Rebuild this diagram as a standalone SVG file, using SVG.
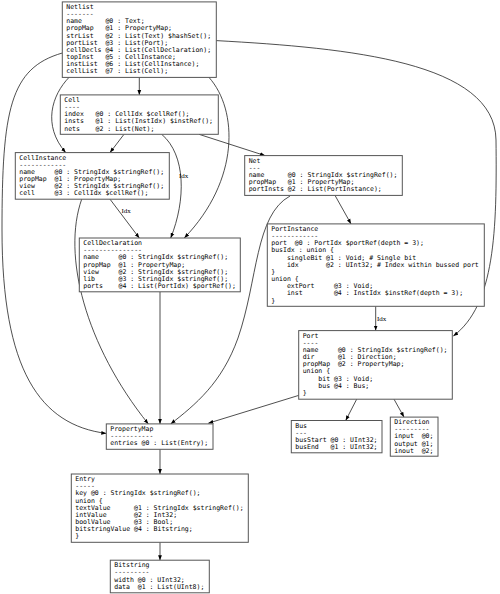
<svg xmlns="http://www.w3.org/2000/svg" width="500" height="594" viewBox="0 0 500 594">
<style>
.box{fill:#fff;stroke:#555;stroke-width:1}
.t{font-family:"DejaVu Sans Mono","Liberation Mono",monospace;font-size:6.5px;fill:#000;white-space:pre}
.e{fill:none;stroke:#222;stroke-width:0.8}
.lbl{font-family:"Liberation Serif",serif;font-size:7px;fill:#000}
</style>
<defs>
<marker id="ah" markerWidth="6" markerHeight="5" refX="5" refY="2.5" orient="auto" markerUnits="userSpaceOnUse"><path d="M0,0.6 L5,2.5 L0,4.4 z" fill="#000"/></marker>
</defs>
<rect width="500" height="594" fill="#fff"/>
<g id="edges">
<path class="e" marker-end="url(#ah)" d="M139.3,77.4 L139.3,94.9"/>
<path class="e" marker-end="url(#ah)" d="M69,77.4 C52,95 42,125 65.7,152.6"/>
<path class="e" marker-end="url(#ah)" d="M209,77.4 C238,110 240,180 184.3,238"/>
<path class="e" marker-end="url(#ah)" d="M62.3,53 C10,68 2,110 2,230 C2,370 40,425 106.3,433.4"/>
<path class="e" marker-end="url(#ah)" d="M216.3,40.6 C350,48 495,62 496,140 C497,230 495,305 453.3,336"/>
<path class="e" marker-end="url(#ah)" d="M124,134.3 L110,152.6"/>
<path class="e" marker-end="url(#ah)" d="M161.7,134.3 C186,155 186,200 170.7,238"/>
<path class="e" marker-end="url(#ah)" d="M199,134.3 L265,155.6"/>
<path class="e" marker-end="url(#ah)" d="M110,199.2 L139.3,238"/>
<path class="e" marker-end="url(#ah)" d="M81.7,199.2 C62,255 85,345 148.3,423.9"/>
<path class="e" marker-end="url(#ah)" d="M160,291.8 L160,423.9"/>
<path class="e" marker-end="url(#ah)" d="M290,196 C255,215 258,280 238,338 C222,383 195,405 170.7,423.9"/>
<path class="e" marker-end="url(#ah)" d="M335,195.4 L351,223.9"/>
<path class="e" marker-end="url(#ah)" d="M375.7,306.3 L375.7,330.6"/>
<path class="e" marker-end="url(#ah)" d="M298.7,395.4 L208.3,423.2"/>
<path class="e" marker-end="url(#ah)" d="M356.7,399.2 L345.7,420.5"/>
<path class="e" marker-end="url(#ah)" d="M394,399.2 L404,417.1"/>
<path class="e" marker-end="url(#ah)" d="M160,449.3 L160,474"/>
<path class="e" marker-end="url(#ah)" d="M160,542.3 L160,560.2"/>
<text class="lbl" x="179" y="178">Idx</text>
<text class="lbl" x="121.5" y="213">Idx</text>
<text class="lbl" x="377" y="320.5">Idx</text>
</g>
<g id="Netlist">
<rect class="box" x="62.3" y="1.9" width="154" height="75.5"/>
<text class="t" xml:space="preserve" x="66.3" y="8.9"><tspan x="66.3">Netlist</tspan><tspan x="66.3" dy="7.17">-------</tspan><tspan x="66.3" dy="7.17">name      @0 : Text;</tspan><tspan x="66.3" dy="7.17">propMap   @1 : PropertyMap;</tspan><tspan x="66.3" dy="7.17">strList   @2 : List(Text) $hashSet();</tspan><tspan x="66.3" dy="7.17">portList  @3 : List(Port);</tspan><tspan x="66.3" dy="7.17">cellDecls @4 : List(CellDeclaration);</tspan><tspan x="66.3" dy="7.17">topInst   @5 : CellInstance;</tspan><tspan x="66.3" dy="7.17">instList  @6 : List(CellInstance);</tspan><tspan x="66.3" dy="7.17">cellList  @7 : List(Cell);</tspan></text>
</g>
<g id="Cell">
<rect class="box" x="60.3" y="94.9" width="158" height="39.4"/>
<text class="t" xml:space="preserve" x="64.3" y="101.9"><tspan x="64.3">Cell</tspan><tspan x="64.3" dy="7.17">----</tspan><tspan x="64.3" dy="7.17">index   @0 : CellIdx $cellRef();</tspan><tspan x="64.3" dy="7.17">insts   @1 : List(InstIdx) $instRef();</tspan><tspan x="64.3" dy="7.17">nets    @2 : List(Net);</tspan></text>
</g>
<g id="CellInstance">
<rect class="box" x="15.3" y="152.6" width="154" height="46.6"/>
<text class="t" xml:space="preserve" x="19.3" y="159.6"><tspan x="19.3">CellInstance</tspan><tspan x="19.3" dy="7.17">------------</tspan><tspan x="19.3" dy="7.17">name     @0 : StringIdx $stringRef();</tspan><tspan x="19.3" dy="7.17">propMap  @1 : PropertyMap;</tspan><tspan x="19.3" dy="7.17">view     @2 : StringIdx $stringRef();</tspan><tspan x="19.3" dy="7.17">cell     @3 : CellIdx $cellRef();</tspan></text>
</g>
<g id="Net">
<rect class="box" x="244.7" y="155.6" width="157.6" height="39.8"/>
<text class="t" xml:space="preserve" x="248.7" y="162.6"><tspan x="248.7">Net</tspan><tspan x="248.7" dy="7.17">---</tspan><tspan x="248.7" dy="7.17">name      @0 : StringIdx $stringRef();</tspan><tspan x="248.7" dy="7.17">propMap   @1 : PropertyMap;</tspan><tspan x="248.7" dy="7.17">portInsts @2 : List(PortInstance);</tspan></text>
</g>
<g id="CellDeclaration">
<rect class="box" x="79.3" y="238" width="161" height="53.8"/>
<text class="t" xml:space="preserve" x="83.3" y="245"><tspan x="83.3">CellDeclaration</tspan><tspan x="83.3" dy="7.17">---------------</tspan><tspan x="83.3" dy="7.17">name     @0 : StringIdx $stringRef();</tspan><tspan x="83.3" dy="7.17">propMap  @1 : PropertyMap;</tspan><tspan x="83.3" dy="7.17">view     @2 : StringIdx $stringRef();</tspan><tspan x="83.3" dy="7.17">lib      @3 : StringIdx $stringRef();</tspan><tspan x="83.3" dy="7.17">ports    @4 : List(PortIdx) $portRef();</tspan></text>
</g>
<g id="PortInstance">
<rect class="box" x="267.3" y="223.9" width="217" height="82.4"/>
<text class="t" xml:space="preserve" x="271.3" y="230.9"><tspan x="271.3">PortInstance</tspan><tspan x="271.3" dy="7.17">------------</tspan><tspan x="271.3" dy="7.17">port  @0 : PortIdx $portRef(depth = 3);</tspan><tspan x="271.3" dy="7.17">busIdx : union {</tspan><tspan x="271.3" dy="7.17">    singleBit @1 : Void; # Single bit</tspan><tspan x="271.3" dy="7.17">    idx       @2 : UInt32; # Index within bussed port</tspan><tspan x="271.3" dy="7.17">}</tspan><tspan x="271.3" dy="7.17">union {</tspan><tspan x="271.3" dy="7.17">    extPort     @3 : Void;</tspan><tspan x="271.3" dy="7.17">    inst        @4 : InstIdx $instRef(depth = 3);</tspan><tspan x="271.3" dy="7.17">}</tspan></text>
</g>
<g id="Port">
<rect class="box" x="298.7" y="330.6" width="153.6" height="68.6"/>
<text class="t" xml:space="preserve" x="302.7" y="337.6"><tspan x="302.7">Port</tspan><tspan x="302.7" dy="7.17">----</tspan><tspan x="302.7" dy="7.17">name     @0 : StringIdx $stringRef();</tspan><tspan x="302.7" dy="7.17">dir      @1 : Direction;</tspan><tspan x="302.7" dy="7.17">propMap  @2 : PropertyMap;</tspan><tspan x="302.7" dy="7.17">union {</tspan><tspan x="302.7" dy="7.17">    bit @3 : Void;</tspan><tspan x="302.7" dy="7.17">    bus @4 : Bus;</tspan><tspan x="302.7" dy="7.17">}</tspan></text>
</g>
<g id="PropertyMap">
<rect class="box" x="106.3" y="423.9" width="106.7" height="25.4"/>
<text class="t" xml:space="preserve" x="110.3" y="430.9"><tspan x="110.3">PropertyMap</tspan><tspan x="110.3" dy="7.17">-----------</tspan><tspan x="110.3" dy="7.17">entries @0 : List(Entry);</tspan></text>
</g>
<g id="Bus">
<rect class="box" x="291.3" y="420.5" width="90.7" height="32.3"/>
<text class="t" xml:space="preserve" x="295.3" y="427.5"><tspan x="295.3">Bus</tspan><tspan x="295.3" dy="7.17">---</tspan><tspan x="295.3" dy="7.17">busStart @0 : UInt32;</tspan><tspan x="295.3" dy="7.17">busEnd   @1 : UInt32;</tspan></text>
</g>
<g id="Direction">
<rect class="box" x="390.3" y="417.1" width="47.7" height="39.1"/>
<text class="t" xml:space="preserve" x="394.3" y="424.1"><tspan x="394.3">Direction</tspan><tspan x="394.3" dy="7.17">---------</tspan><tspan x="394.3" dy="7.17">input  @0;</tspan><tspan x="394.3" dy="7.17">output @1;</tspan><tspan x="394.3" dy="7.17">inout  @2;</tspan></text>
</g>
<g id="Entry">
<rect class="box" x="71.3" y="474" width="177" height="68.3"/>
<text class="t" xml:space="preserve" x="75.3" y="481"><tspan x="75.3">Entry</tspan><tspan x="75.3" dy="7.17">-----</tspan><tspan x="75.3" dy="7.17">key @0 : StringIdx $stringRef();</tspan><tspan x="75.3" dy="7.17">union {</tspan><tspan x="75.3" dy="7.17">textValue      @1 : StringIdx $stringRef();</tspan><tspan x="75.3" dy="7.17">intValue       @2 : Int32;</tspan><tspan x="75.3" dy="7.17">boolValue      @3 : Bool;</tspan><tspan x="75.3" dy="7.17">bitstringValue @4 : Bitstring;</tspan><tspan x="75.3" dy="7.17">}</tspan></text>
</g>
<g id="Bitstring">
<rect class="box" x="110.3" y="560.2" width="99" height="32.6"/>
<text class="t" xml:space="preserve" x="114.3" y="567.2"><tspan x="114.3">Bitstring</tspan><tspan x="114.3" dy="7.17">---------</tspan><tspan x="114.3" dy="7.17">width @0 : UInt32;</tspan><tspan x="114.3" dy="7.17">data  @1 : List(UInt8);</tspan></text>
</g>
</svg>
